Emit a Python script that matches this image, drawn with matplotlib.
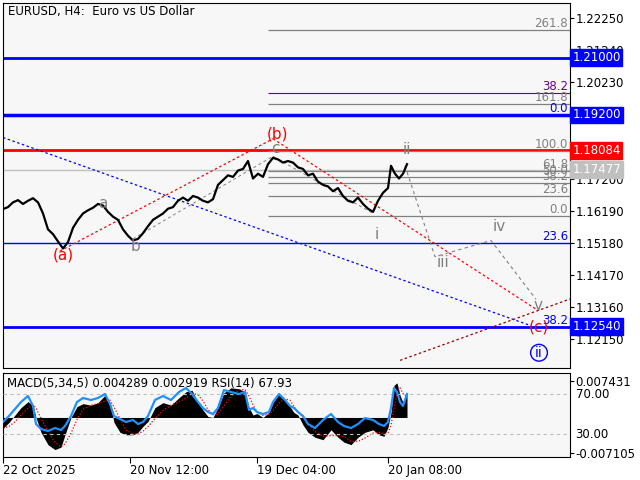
import matplotlib.pyplot as plt
import numpy as np

plt.rcParams["font.family"] = ["DejaVu Sans"]

# ── data (bar index vs price) ──────────────────────────────────
bars = [0, 5, 10, 15, 20, 25, 30, 35, 40, 45, 50, 55, 60, 65, 70, 75, 80, 85, 90, 95,
        100, 105, 110, 115, 120, 125, 130, 135, 140, 145, 150, 155, 160, 165, 170, 175,
        180, 185, 190, 195, 200, 205, 210, 215, 220, 225, 230, 235, 240, 245, 250, 255,
        260, 265, 270, 275, 280, 285, 290, 295, 300, 305, 310, 315, 320, 325, 330, 335,
        340, 345, 350, 355, 360, 365, 370, 375, 380, 385, 388, 392, 396, 400, 404]
price = [1.1624, 1.1630, 1.1645, 1.1652, 1.1640, 1.1650, 1.1658, 1.1645, 1.1610, 1.1560,
         1.1545, 1.1522, 1.1500, 1.1520, 1.1565, 1.1590, 1.1610, 1.1620, 1.1628, 1.1640,
         1.1635, 1.1615, 1.1600, 1.1590, 1.1560, 1.1540, 1.1525, 1.1530, 1.1548, 1.1570,
         1.1590, 1.1600, 1.1610, 1.1625, 1.1630, 1.1650, 1.1660, 1.1650, 1.1665, 1.1660,
         1.1650, 1.1645, 1.1655, 1.1700, 1.1715, 1.1730, 1.1725, 1.1745, 1.1750, 1.1775,
         1.1720, 1.1735, 1.1725, 1.1765, 1.1785, 1.1780, 1.1770, 1.1775, 1.1770, 1.1755,
         1.1750, 1.1730, 1.1735, 1.1710, 1.1700, 1.1695, 1.1680, 1.1690, 1.1665, 1.1650,
         1.1645, 1.1660, 1.1640, 1.1625, 1.1615, 1.1650, 1.1675, 1.1690, 1.1760, 1.1735,
         1.1720, 1.1735, 1.1765]

macd_bars = [0, 6, 12, 18, 25, 30, 33, 38, 45, 52, 58, 62, 68, 74, 80, 88, 95, 102, 107,
             111, 117, 123, 130, 135, 140, 145, 152, 160, 168, 176, 183, 189, 195, 200,
             205, 210, 215, 221, 228, 236, 242, 246, 250, 254, 260, 266, 270, 276, 282,
             287, 291, 295, 300, 305, 312, 320, 328, 335, 341, 348, 355, 362, 370, 376,
             381, 385, 388, 391, 394, 397, 400, 404]
macd_hist = [-0.0022, -0.0010, 0.0005, 0.0020, 0.0032, 0.0025, 0.0000, -0.0030, -0.0055,
             -0.0065, -0.0060, -0.0035, 0.0000, 0.0022, 0.0028, 0.0025, 0.0030, 0.0045,
             0.0030, -0.0010, -0.0030, -0.0035, -0.0035, -0.0030, -0.0018, -0.0008,
             0.0020, 0.0030, 0.0025, 0.0040, 0.0052, 0.0055, 0.0030, 0.0015, 0.0002,
             0.0000, 0.0020, 0.0050, 0.0060, 0.0058, 0.0052, 0.0020, 0.0005, 0.0008,
             0.0000, 0.0010, 0.0030, 0.0048, 0.0035, 0.0022, 0.0010, 0.0005, -0.0015,
             -0.0030, -0.0040, -0.0045, -0.0025, -0.0040, -0.0050, -0.0055, -0.0040,
             -0.0030, -0.0025, -0.0035, -0.0038, -0.0020, 0.0010, 0.0065, 0.0070, 0.0045,
             0.0030, 0.0050]
rsi = [42, 48, 55, 62, 68, 58, 40, 35, 33, 36, 34, 38, 48, 62, 66, 64, 66, 70, 60, 48, 45,
       42, 44, 40, 42, 48, 64, 68, 64, 72, 76, 70, 62, 56, 52, 50, 56, 74, 72, 70, 72, 54,
       56, 52, 50, 52, 62, 70, 64, 58, 56, 52, 48, 40, 36, 44, 50, 42, 38, 36, 40, 46, 44,
       40, 38, 42, 56, 76, 72, 62, 58, 70]

ytick_vals = [1.22250, 1.21240, 1.20230, 1.17200, 1.16190, 1.15180, 1.14170, 1.13160, 1.12150]
price_boxes = [(1.21000, "#0000ff", "white"), (1.19200, "#0000ff", "white"),
               (1.18084, "#ff0000", "white"), (1.17477, "#c0c0c0", "white"),
               (1.12540, "#0000ff", "white")]
fib_gray = [(1.2186, "261.8"), (1.1953, "161.8"), (1.1808, "100.0"), (1.1744, "61.8"),
            (1.1726, "50.0"), (1.1706, "38.2"), (1.1666, "23.6"), (1.1601, "0.0")]
date_pos = [0, 127, 254, 385]
date_labels = ["22 Oct 2025", "20 Nov 12:00", "19 Dec 04:00", "20 Jan 08:00"]

W, H = 640, 480
fig = plt.figure(figsize=(6.4, 4.8), dpi=100)
fig.patch.set_facecolor("white")
ax = fig.add_axes([3 / W, 1 - 368 / H, 567 / W, 365 / H])
ax2 = fig.add_axes([3 / W, 1 - 457 / H, 567 / W, 84 / H])
for a in (ax, ax2):
    a.set_facecolor("#f7f7f7")
    a.set_xlim(0, 567)
    for s in a.spines.values():
        s.set_color("black")
        s.set_linewidth(0.8)
    a.tick_params(axis="y", labelsize=8.5, length=3, pad=1)

ax.set_ylim(1.1124, 1.2272)
ax.set_xticks([])
ax.set_yticks(ytick_vals)
ax.set_yticklabels([f"{v:.5f}" for v in ytick_vals])
ax.yaxis.tick_right()

# horizontal levels
ax.axhline(1.2100, color="#0000ff", lw=2)
ax.axhline(1.1920, color="#0000ff", lw=2.5)
ax.axhline(1.18084, color="#ff0000", lw=2)
ax.axhline(1.17477, color="#c0c0c0", lw=1)
ax.axhline(1.1518, color="#0000ff", lw=1)
ax.axhline(1.1254, color="#0000ff", lw=2)
ax.hlines(1.1990, 265, 567, color="#660099", lw=0.8)

for v, lab in fib_gray:
    ax.hlines(v, 265, 567, color="#808080", lw=0.9)
    ax.text(565, v, lab, ha="right", va="bottom", fontsize=8.5, color="#808080")
ax.text(565, 1.1990, "38.2", ha="right", va="bottom", fontsize=8.5, color="#660099")
ax.text(565, 1.1920, "0.0", ha="right", va="bottom", fontsize=8.5, color="#0000ff")
ax.text(565, 1.1518, "23.6", ha="right", va="bottom", fontsize=8.5, color="#0000ff")
ax.text(565, 1.1254, "38.2", ha="right", va="bottom", fontsize=8.5, color="#0000ff")

for v, bg, fg in price_boxes:
    ax.text(1.004, v, f"{v:.5f}", transform=ax.get_yaxis_transform(), ha="left",
            va="center", fontsize=8.5, color=fg, clip_on=False,
            bbox=dict(boxstyle="square,pad=0.15", fc=bg, ec=bg))

# trend lines
ax.plot([0, 527], [1.1849, 1.1258], ls=(0, (2, 2)), color="#0000ff", lw=0.9)
ax.plot([57, 270], [1.1492, 1.1845], ls=(0, (2, 2)), color="#ff0000", lw=0.9)
ax.plot([270, 533], [1.1845, 1.1309], ls=(0, (2, 2)), color="#ff0000", lw=0.9)
ax.plot([397, 567], [1.1148, 1.1341], ls=(0, (2, 2)), color="#990000", lw=0.9)
ax.plot([402, 432, 488, 533], [1.1760, 1.1474, 1.1525, 1.1340],
        ls=(0, (3, 3)), color="#808080", lw=0.8)
ax.plot([130, 270], [1.1530, 1.1790], ls=(0, (3, 3)), color="#808080", lw=0.7)
ax.plot([270, 370], [1.1790, 1.1610], ls=(0, (3, 3)), color="#808080", lw=0.7)

ax.plot(bars, price, color="black", lw=1.6)

# wave labels
for x, y, t, c, fs in [(60, 1.1480, "(a)", "#ff0000", 11), (100, 1.1640, "a", "#808080", 11),
                       (133, 1.1505, "b", "#808080", 11), (275, 1.1860, "(b)", "#ff0000", 11),
                       (272, 1.1815, "c", "#808080", 11), (374, 1.1545, "i", "#808080", 11),
                       (404, 1.1810, "ii", "#808080", 11), (440, 1.1455, "iii", "#808080", 11),
                       (496, 1.1568, "iv", "#808080", 11), (535, 1.1320, "v", "#808080", 11),
                       (536, 1.1254, "(c)", "#ff0000", 11)]:
    ax.text(x, y, t, color=c, fontsize=fs, ha="center", va="center")
ax.text(536, 1.1172, "ii", color="#0000ff", fontsize=10, ha="center", va="center",
        bbox=dict(boxstyle="circle,pad=0.1", fc="none", ec="#0000ff"))
ax.text(5, 1.2245, "EURUSD, H4:  Euro vs US Dollar", fontsize=8.5, va="center")

# indicator pane
ax2.set_ylim(-0.0080, 0.0090)
ax2.fill_between(macd_bars, 0, macd_hist, color="black", lw=0)
sig = np.convolve(np.r_[[macd_hist[0]] * 2, macd_hist], np.ones(3) / 3, "valid")
ax2.plot(macd_bars, sig, color="#ff0000", ls=(0, (1, 1.5)), lw=0.9)
ax3 = ax2.twinx()
ax3.set_ylim(7, 91)
ax3.set_xlim(0, 567)
ax3.set_yticks([])
for s in ax3.spines.values():
    s.set_visible(False)
for lv in (70, 30):
    ax3.axhline(lv, color="#c0c0c0", ls=(0, (3, 3)), lw=0.8)
    ax3.text(1.01, lv, f"{lv}.00", transform=ax3.get_yaxis_transform(), fontsize=8.5,
             va="center", ha="left", clip_on=False)
ax3.plot(macd_bars, rsi, color="#1e90ff", lw=1.6)
ax2.set_yticks([0.007431, -0.007105])
ax2.set_yticklabels(["0.007431", "-0.007105"])
ax2.yaxis.tick_right()
ax2.yaxis.set_label_position("right")
ax2.text(4, 0.0068, "MACD(5,34,5) 0.004289 0.002919 RSI(14) 67.93", fontsize=8.5, va="center")
ax2.set_xticks(date_pos)
ax2.set_xticklabels(date_labels, fontsize=8.5, ha="left")
ax2.tick_params(axis="x", length=4, pad=1)

fig.savefig("out.png", dpi=100, facecolor="white")
